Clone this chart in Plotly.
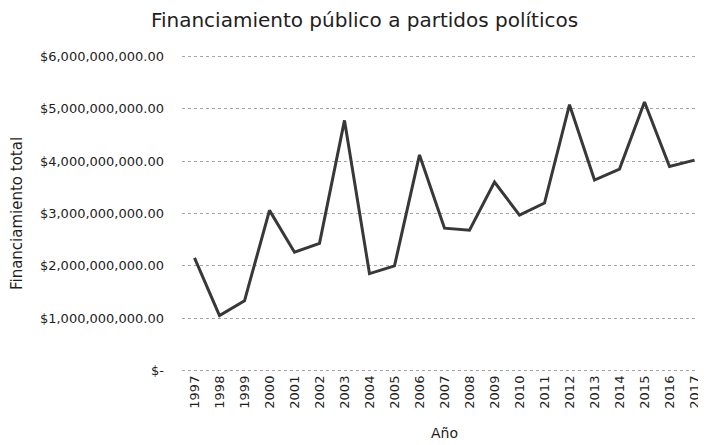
import plotly.graph_objects as go

years = [str(y) for y in range(1997, 2018)]
funding = [2.15e9, 1.05e9, 1.33e9, 3.06e9, 2.26e9, 2.43e9, 4.78e9, 1.85e9, 2.0e9, 4.12e9,
           2.72e9, 2.68e9, 3.6e9, 2.97e9, 3.2e9, 5.08e9, 3.64e9, 3.85e9, 5.13e9, 3.9e9, 4.02e9]
y_tickvals = [0, 1e9, 2e9, 3e9, 4e9, 5e9, 6e9]
y_ticktext = ["$-", "$1,000,000,000.00", "$2,000,000,000.00", "$3,000,000,000.00",
              "$4,000,000,000.00", "$5,000,000,000.00", "$6,000,000,000.00"]

FONT = "DejaVu Sans"
TXT = "#1e1e1e"

fig = go.Figure(go.Scatter(x=years, y=funding, mode="lines",
                           line=dict(color="#383838", width=3)))

fig.update_layout(
    width=706, height=445,
    margin=dict(l=174, r=7, t=47, b=81),
    paper_bgcolor="white", plot_bgcolor="white",
    showlegend=False,
    font=dict(family=FONT, color=TXT),
    title=dict(text="Financiamiento público a partidos políticos", x=0.505, xanchor="center",
               y=0.972, yanchor="middle", font=dict(family=FONT, size=20, color=TXT)),
)
fig.update_xaxes(type="category", tickangle=-90, showgrid=False, showline=False,
                 ticks="", tickfont=dict(size=13, family=FONT), automargin=False,
                 range=[-0.5, 20.5],
                 title=dict(text="Año", font=dict(size=14, family=FONT), standoff=20))
fig.update_yaxes(range=[-0.03e9, 6.03e9], tickvals=y_tickvals, ticktext=y_ticktext,
                 showgrid=True, gridcolor="#a6a6a6", griddash="dot", gridwidth=1,
                 zeroline=False, showline=False, ticks="", ticklabelstandoff=17,
                 tickfont=dict(size=13, family=FONT), automargin=False,
                 title=dict(text="Financiamiento total", font=dict(size=15, family=FONT), standoff=23))

fig.write_html("out.html")
